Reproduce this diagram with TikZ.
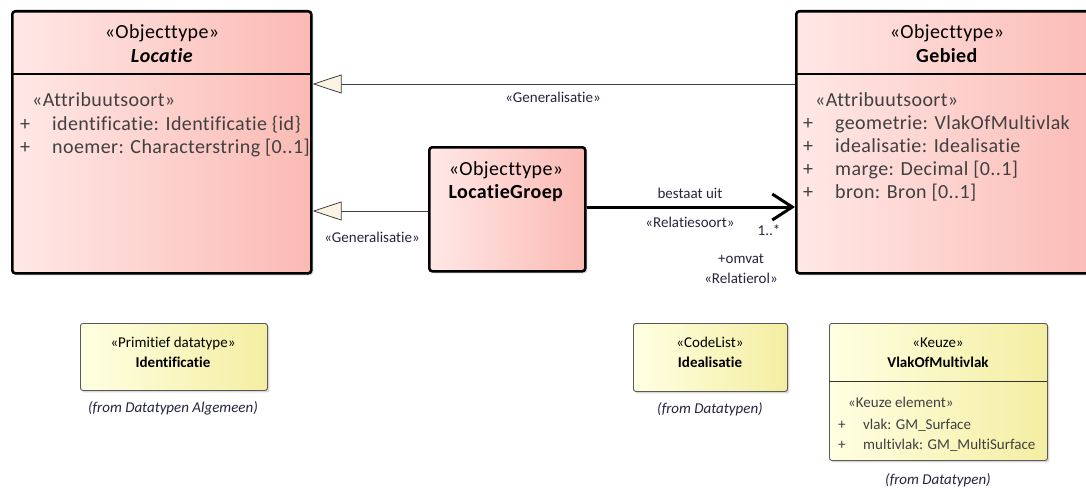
\documentclass[tikz,border=0pt]{standalone}
\usepackage{fontspec}
\setmainfont{Carlito}[Ligatures=NoCommon]
\newfontfamily\bigfam{Carlito}[LetterSpace=2.0,Ligatures=NoCommon]
\usetikzlibrary{arrows.meta,shadows}
\definecolor{pinkL}{HTML}{FFE8E6}
\definecolor{pinkR}{HTML}{FBBAB4}
\definecolor{yelL}{HTML}{FFFFE2}
\definecolor{yelR}{HTML}{F4EEA2}
\definecolor{attr}{HTML}{404040}
\definecolor{lbl}{HTML}{262640}
\definecolor{cream}{HTML}{FCF3E3}
\tikzset{
  mainbox/.style={draw=black, line width=2.6pt, rounded corners=3pt, left color=pinkL, right color=pinkR,
     anchor=north west, inner sep=0pt,
     drop shadow={shadow xshift=2pt, shadow yshift=-2pt, fill=black!25, opacity=0.6}},
  smallbox/.style={draw=black!65, line width=0.9pt, rounded corners=2.5pt, left color=yelL, right color=yelR,
     anchor=north west, inner sep=0pt,
     drop shadow={shadow xshift=2pt, shadow yshift=-2pt, fill=black!25, opacity=0.6}},
  big/.style={font=\bigfam\fontsize{20}{23}\selectfont, inner sep=0pt, anchor=base},
  bigattr/.style={font=\bigfam\fontsize{20}{23}\selectfont, inner sep=0pt, anchor=base west, text=attr},
  small/.style={font=\fontsize{15}{18}\selectfont, inner sep=0pt, anchor=base},
  smallattr/.style={font=\fontsize{15}{18}\selectfont, inner sep=0pt, anchor=base west, text=attr},
  conlbl/.style={font=\fontsize{15}{18}\selectfont, inner sep=0pt, anchor=base, text=lbl},
  gen/.style={draw=black!75, line width=0.9pt, -{Triangle[length=29pt,width=19pt,fill=cream,line width=0.8pt]}},
  assoc/.style={draw=black, line width=3pt, -{Straight Barb[length=20pt,width=26pt,line width=3pt]}},
}
\begin{document}
\begin{tikzpicture}[x=1pt,y=-1pt]
\clip (0,0) rectangle (1086,487);
\fill[white] (0,0) rectangle (1086,487);

% Locatie
\node[mainbox, minimum width=299pt, minimum height=262pt] (locatie) at (11,10) {};
\draw[line width=2.6pt] (11,74) -- (310,74);
\node[big] (loc1) at (162,38) {«Objecttype»};
\node[big] (loc2) at (162,63) {\textbf{\textit{Locatie}}};
\node[bigattr] (loc3) at (32,106) {«Attribuutsoort»};
\node[bigattr] (loc4p) at (20,130) {+};
\node[bigattr] (loc4) at (52,130) {identificatie: Identificatie \{id\}};
\node[bigattr] (loc5p) at (20,153) {+};
\node[bigattr] (loc5) at (52,153) {noemer: Characterstring [0..1]};

% Gebied
\node[mainbox, minimum width=310pt, minimum height=262pt] (gebied) at (795,10) {};
\draw[line width=2.6pt] (795,74) -- (1090,74);
\node[big] (geb1) at (947,38) {«Objecttype»};
\node[big] (geb2) at (947,63) {\textbf{Gebied}};
\node[bigattr] (geb3) at (815,106) {«Attribuutsoort»};
\node[bigattr] (geb4p) at (803,129) {+};
\node[bigattr] (geb4) at (835,129) {geometrie: VlakOfMultivlak};
\node[bigattr] (geb5p) at (803,152) {+};
\node[bigattr] (geb5) at (835,152) {idealisatie: Idealisatie};
\node[bigattr] (geb6p) at (803,175) {+};
\node[bigattr] (geb6) at (835,175) {marge: Decimal [0..1]};
\node[bigattr] (geb7p) at (803,198) {+};
\node[bigattr] (geb7) at (835,198) {bron: Bron [0..1]};

% LocatieGroep
\node[mainbox, minimum width=156pt, minimum height=124pt] (groep) at (428,146) {};
\node[big] (grp1) at (506,175) {«Objecttype»};
\node[big] (grp2) at (506,198) {\textbf{LocatieGroep}};

% Identificatie
\node[smallbox, minimum width=187pt, minimum height=67pt] (ident) at (80,323) {};
\node[small] (id1) at (173,347) {«Primitief datatype»};
\node[small] (id2) at (173,367) {\textbf{Identificatie}};
\node[small, text=lbl] (id3) at (173,412) {\textit{(from Datatypen Algemeen)}};

% Idealisatie
\node[smallbox, minimum width=154pt, minimum height=68pt] (ideal) at (633,323) {};
\node[small] (ia1) at (710,347) {«CodeList»};
\node[small] (ia2) at (710,367) {\textbf{Idealisatie}};
\node[small, text=lbl] (ia3) at (710,413) {\textit{(from Datatypen)}};

% VlakOfMultivlak
\node[smallbox, minimum width=218pt, minimum height=137pt] (vlak) at (829,323) {};
\draw[line width=0.9pt, black!80] (829,381) -- (1047,381);
\node[small] (vm1) at (938,347) {«Keuze»};
\node[small] (vm2) at (938,367) {\textbf{VlakOfMultivlak}};
\node[smallattr] (vm3) at (848,407) {«Keuze element»};
\node[smallattr] (vm4p) at (838,429) {+};
\node[smallattr] (vm4) at (863,429) {vlak: GM\_Surface};
\node[smallattr] (vm5p) at (838,449) {+};
\node[smallattr] (vm5) at (863,449) {multivlak: GM\_MultiSurface};
\node[small, text=lbl] (vm6) at (938,484) {\textit{(from Datatypen)}};

% connectors
\coordinate (yA) at (0,84);
\coordinate (yB) at (0,211);
\coordinate (yC) at (0,207);
\draw[gen] (gebied.west |- yA) -- (locatie.east |- yA);
\draw[gen] (groep.west |- yB) -- (locatie.east |- yB);
\draw[assoc] (groep.east |- yC) -- (gebied.west |- yC);

\node[conlbl] (l1) at (553,102) {«Generalisatie»};
\node[conlbl] (l2) at (372,242) {«Generalisatie»};
\node[conlbl] (l3) at (690,198) {bestaat uit};
\node[conlbl] (l4) at (690,227) {«Relatiesoort»};
\node[conlbl] (l5) at (769,235) {1..*};
\node[conlbl] (l6) at (741,263) {+omvat};
\node[conlbl] (l7) at (741,283) {«Relatierol»};
\end{tikzpicture}
\end{document}
